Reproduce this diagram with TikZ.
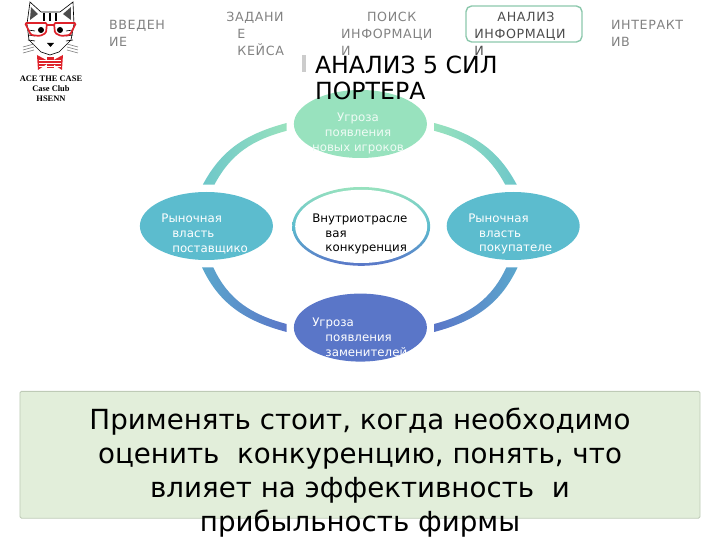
\documentclass[tikz,border=0pt]{standalone}
\usepackage{fontspec}
\usepackage{xcolor}
\usetikzlibrary{shapes.geometric, calc, positioning}
\setmainfont{DejaVu Sans}
\newfontfamily\menufont[LetterSpace=5]{DejaVu Sans}
\newfontfamily\logofont{Liberation Serif}
\definecolor{menugray}{RGB}{130,130,130}
\definecolor{boxgreen}{RGB}{226,238,218}
\definecolor{boxedge}{RGB}{190,202,182}
\definecolor{tabgreen}{RGB}{140,200,172}
\definecolor{mintnode}{RGB}{152,226,190}
\definecolor{tealnode}{RGB}{92,188,206}
\definecolor{bluenode}{RGB}{90,118,200}
\definecolor{catred}{RGB}{222,34,42}

\begin{document}
\begin{tikzpicture}[
  blob/.style={ellipse, minimum width=3.325cm, minimum height=1.7cm, inner sep=0pt},
  ringtxt/.style={anchor=west, align=left, inner sep=0pt, font=\fontsize{8.4}{10.5}\selectfont},
  menu/.style={anchor=north west, align=left, inner sep=0pt, text=menugray, font=\fontsize{9}{11.9}\selectfont\menufont},
  band/.style={draw=none},
  catline/.style={line width=0.45pt, black}
]
  \useasboundingbox (0,0) rectangle (18,13.5);
  % logo, in pixel units
  \begin{scope}[shift={(0cm,13.5cm)}, x=0.025cm, y=-0.025cm]
    \draw[catline, fill=white] (30,2) -- (27,24) -- (29,40) -- (41,52) -- (50,55) -- (59,52) -- (71,40) -- (74,24) -- (73,2) -- (60,12) -- (41,12) -- cycle;
    \fill[black!70] (31,7) -- (30,20) -- (38,14) -- cycle;
    \fill[black!70] (71,7) -- (71,20) -- (63,14) -- cycle;
    \foreach \sx in {44,50,56} \draw[catline, line width=0.8pt] (\sx,13) -- (\sx,21);
    \foreach \sy in {30,35,40} {
      \draw[catline] (28,\sy) -- (35,\sy+1);
      \draw[catline] (73,\sy) -- (66,\sy+1);
    }
    \foreach \sy in {44,47,50} {
      \draw[catline, black!50] (34,\sy) -- (23,\sy+3);
      \draw[catline, black!50] (67,\sy) -- (78,\sy+3);
    }
    \fill[black] (41,30) circle (3);
    \fill[black] (60,30) circle (3);
    \fill[black] (47,43) -- (54,43) -- (50.5,47) -- cycle;
    \draw[catred, line width=1.2pt, rounded corners=1pt] (25,23) -- (47,23) -- (46,33) -- (40,36) -- (31,35) -- (28,29) -- cycle;
    \draw[catred, line width=1.2pt, rounded corners=1pt] (76,23) -- (54,23) -- (55,33) -- (61,36) -- (70,35) -- (73,29) -- cycle;
    \draw[catred, line width=1.6pt] (46,25) -- (55,25);
    \fill[catred] (50,62) -- (37,55) -- (38,70) -- cycle;
    \fill[catred] (50,62) -- (63,55) -- (62,70) -- cycle;
    \fill[catred] (47,57) rectangle (54,68);
    \foreach \sy in {60,63,66} \draw[white, line width=0.3pt] (39,\sy) -- (61,\sy);
    \node[inner sep=0pt, align=center, font=\fontsize{6}{7}\selectfont\logofont\bfseries] (logotxt) at (51,89) {ACE THE CASE\\Case Club\\HSENN};
  \end{scope}
  % menu
  \node[rectangle, rounded corners=4pt, draw=tabgreen, line width=1pt, minimum width=2.9cm, minimum height=0.9cm] (tab) at (13.1,12.9) {};
  \node[menu] (intro) at (2.72,12.99) {ВВЕДЕН\\ИЕ};
  \node[menu] (task) at (5.65,13.2) {ЗАДАНИ\\\hspace*{0.28cm}Е\\\hspace*{0.28cm}КЕЙСА};
  \node[menu] (search) at (8.52,13.2) {\hspace*{0.65cm}ПОИСК\\ИНФОРМАЦИ\\И};
  \node[menu, text=black!70] (analysis) at (11.85,13.2) {\hspace*{0.58cm}АНАЛИЗ\\ИНФОРМАЦИ\\И};
  \node[menu] (inter) at (15.27,12.99) {ИНТЕРАКТ\\ИВ};
  % ring
  \node[blob, fill=mintnode] (top) at (9.01,10.4) {};
  \node[blob, fill=tealnode] (left) at (5.16,7.85) {};
  \node[blob, fill=tealnode] (right) at (12.83,7.85) {};
  \node[blob, fill=bluenode] (bot) at (9.01,5.31) {};
  \node[ellipse, minimum width=3.45cm, minimum height=1.97cm, inner sep=0pt, top color=mintnode, bottom color=bluenode, middle color=tealnode] (mid) at (9.03,7.84) {};
  \node[ellipse, minimum width=3.3cm, minimum height=1.83cm, inner sep=0pt, fill=white] (midin) at (mid) {};
  % arcs between the blobs
  \path[band, left color=tealnode!70!mintnode, right color=mintnode] ([shift={(-0.175,0.025)}]top.west) to[out=195,in=62] ([shift={(-0.09,0.175)}]left.north) -- ([shift={(0.2,0.175)}]left.north) to[out=62,in=195] ([shift={(-0.175,-0.17)}]top.west) -- cycle;
  \path[band, right color=tealnode!70!mintnode, left color=mintnode] ([shift={(0.175,0.025)}]top.east) to[out=-15,in=118] ([shift={(0.09,0.175)}]right.north) -- ([shift={(-0.2,0.175)}]right.north) to[out=118,in=-15] ([shift={(0.175,-0.17)}]top.east) -- cycle;
  \path[band, left color=tealnode!70!bluenode, right color=bluenode] ([shift={(-0.11,-0.175)}]left.south) to[out=-65,in=165] ([shift={(-0.175,-0.11)}]bot.west) -- ([shift={(-0.175,0.09)}]bot.west) to[out=165,in=-65] ([shift={(0.17,-0.175)}]left.south) -- cycle;
  \path[band, right color=tealnode!70!bluenode, left color=bluenode] ([shift={(0.11,-0.175)}]right.south) to[out=-115,in=15] ([shift={(0.175,-0.11)}]bot.east) -- ([shift={(0.175,0.09)}]bot.east) to[out=15,in=-115] ([shift={(-0.17,-0.175)}]right.south) -- cycle;
  % title
  \fill[black!20] (7.56,11.7) rectangle (7.64,12.12);
  \node[anchor=north west, align=left, inner sep=0pt, font=\fontsize{16.8}{19}\selectfont] (title) at (7.87,12.12) {АНАЛИЗ 5 СИЛ\\ПОРТЕРА};
  % labels of the ring
  \node[ringtxt, align=center, anchor=center, text=white!85!mintnode] (toptxt) at (8.95,10.16) {Угроза\\появления\\новых игроков};
  \node[ringtxt, text=white] (lefttxt) at (4.03,7.65) {Рыночная\\\hspace*{0.27cm}власть\\\hspace*{0.27cm}поставщико};
  \node[ringtxt, text=white] (righttxt) at (11.7,7.65) {Рыночная\\\hspace*{0.27cm}власть\\\hspace*{0.27cm}покупателе};
  \node[ringtxt] (midtxt) at (7.8,7.65) {Внутриотрасле\\\hspace*{0.33cm}вая\\\hspace*{0.33cm}конкуренция};
  \node[ringtxt, text=white] (bottxt) at (7.8,5.07) {Угроза\\\hspace*{0.33cm}появления\\\hspace*{0.33cm}заменителей};
  % note below
  \node[rectangle, rounded corners=1pt, draw=boxedge, fill=boxgreen, line width=0.6pt, minimum width=17cm, minimum height=3.17cm, inner sep=0pt] (note) at (9,2.13) {};
  \node[align=center, inner sep=0pt, font=\fontsize{19.7}{24.3}\selectfont] (notetxt) at (9,1.68) {Применять стоит, когда необходимо\\оценить\ \ конкуренцию, понять, что\\влияет на эффективность\ \ и\\прибыльность фирмы};
\end{tikzpicture}
\end{document}
